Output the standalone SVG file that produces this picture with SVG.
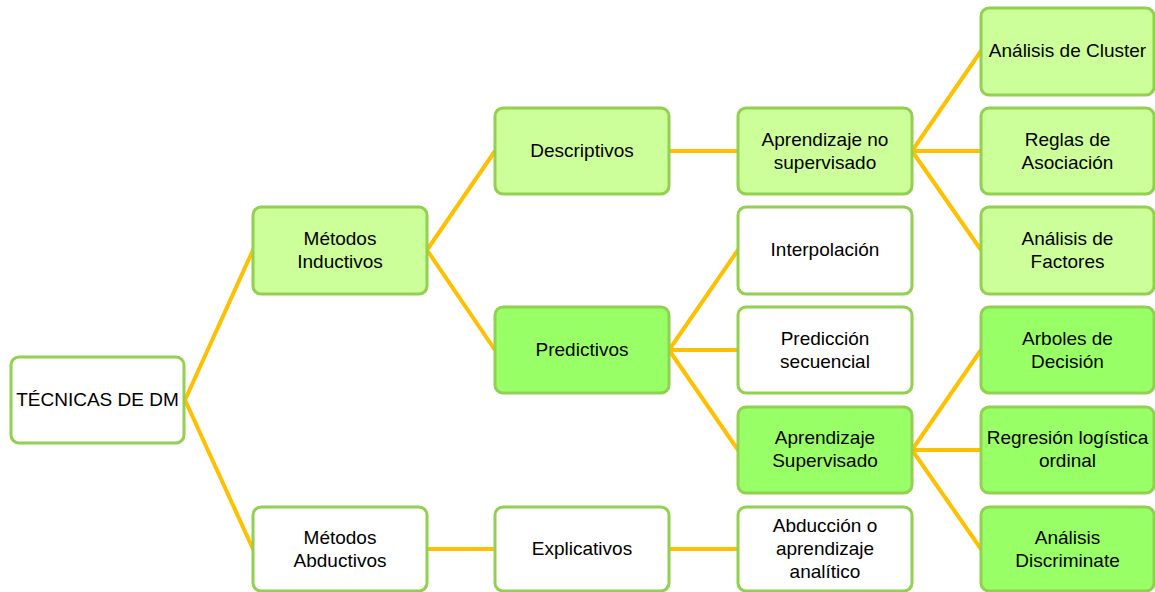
<svg xmlns="http://www.w3.org/2000/svg" width="1155" height="592" viewBox="0 0 1155 592">
<style>
.n{stroke:#92D050;stroke-width:3}
.w{fill:#FFFFFF}
.l{fill:#CCFF99}
.d{fill:#99FF66}
text{font-family:"Liberation Sans",Arial,sans-serif;font-size:19px;fill:#000;text-anchor:middle}
#connectors line{stroke:#FFC000;stroke-width:4;stroke-linecap:round}
</style>
<rect width="1155" height="592" fill="#FFFFFF"/>
<g id="connectors">
<line x1="185" y1="400" x2="253" y2="250"/>
<line x1="185" y1="400" x2="253" y2="549"/>
<line x1="427" y1="250" x2="495" y2="151"/>
<line x1="427" y1="250" x2="495" y2="350"/>
<line x1="427" y1="549" x2="495" y2="549"/>
<line x1="669" y1="151" x2="738" y2="151"/>
<line x1="669" y1="350" x2="738" y2="250"/>
<line x1="669" y1="350" x2="738" y2="350"/>
<line x1="669" y1="350" x2="738" y2="450"/>
<line x1="669" y1="549" x2="738" y2="549"/>
<line x1="912" y1="151" x2="981" y2="51"/>
<line x1="912" y1="151" x2="981" y2="151"/>
<line x1="912" y1="151" x2="981" y2="250"/>
<line x1="912" y1="450" x2="981" y2="350"/>
<line x1="912" y1="450" x2="981" y2="450"/>
<line x1="912" y1="450" x2="981" y2="549"/>
</g>
<g id="tecnicas"><rect class="n w" x="11" y="357" width="173" height="86" rx="8"/><text x="97.5" y="406">TÉCNICAS DE DM</text></g>
<g id="inductivos"><rect class="n l" x="253" y="207" width="174" height="87" rx="8"/><text x="340" y="245">Métodos</text><text x="340" y="268">Inductivos</text></g>
<g id="abductivos"><rect class="n w" x="253" y="507" width="174" height="84" rx="8"/><text x="340" y="544">Métodos</text><text x="340" y="567">Abductivos</text></g>
<g id="descriptivos"><rect class="n l" x="495" y="108" width="174" height="86" rx="8"/><text x="582" y="157">Descriptivos</text></g>
<g id="predictivos"><rect class="n d" x="495" y="307" width="174" height="86" rx="8"/><text x="582" y="356">Predictivos</text></g>
<g id="explicativos"><rect class="n w" x="495" y="507" width="174" height="84" rx="8"/><text x="582" y="555">Explicativos</text></g>
<g id="aprendizaje-no-supervisado"><rect class="n l" x="738" y="108" width="174" height="86" rx="8"/><text x="825" y="146">Aprendizaje no</text><text x="825" y="169">supervisado</text></g>
<g id="interpolacion"><rect class="n w" x="738" y="207" width="174" height="87" rx="8"/><text x="825" y="256">Interpolación</text></g>
<g id="prediccion-secuencial"><rect class="n w" x="738" y="307" width="174" height="86" rx="8"/><text x="825" y="345">Predicción</text><text x="825" y="368">secuencial</text></g>
<g id="aprendizaje-supervisado"><rect class="n d" x="738" y="407" width="174" height="86" rx="8"/><text x="825" y="444">Aprendizaje</text><text x="825" y="467">Supervisado</text></g>
<g id="abduccion"><rect class="n w" x="738" y="507" width="174" height="84" rx="8"/><text x="825" y="532">Abducción o</text><text x="825" y="555">aprendizaje</text><text x="825" y="578">analítico</text></g>
<g id="cluster"><rect class="n l" x="981" y="8" width="173" height="87" rx="8"/><text x="1067.5" y="57">Análisis de Cluster</text></g>
<g id="reglas"><rect class="n l" x="981" y="108" width="173" height="86" rx="8"/><text x="1067.5" y="146">Reglas de</text><text x="1067.5" y="169">Asociación</text></g>
<g id="factores"><rect class="n l" x="981" y="207" width="173" height="87" rx="8"/><text x="1067.5" y="245">Análisis de</text><text x="1067.5" y="268">Factores</text></g>
<g id="arboles"><rect class="n d" x="981" y="307" width="173" height="86" rx="8"/><text x="1067.5" y="345">Arboles de</text><text x="1067.5" y="368">Decisión</text></g>
<g id="regresion"><rect class="n d" x="981" y="407" width="173" height="86" rx="8"/><text x="1067.5" y="444">Regresión logística</text><text x="1067.5" y="467">ordinal</text></g>
<g id="discriminate"><rect class="n d" x="981" y="507" width="173" height="84" rx="8"/><text x="1067.5" y="544">Análisis</text><text x="1067.5" y="567">Discriminate</text></g>
</svg>
